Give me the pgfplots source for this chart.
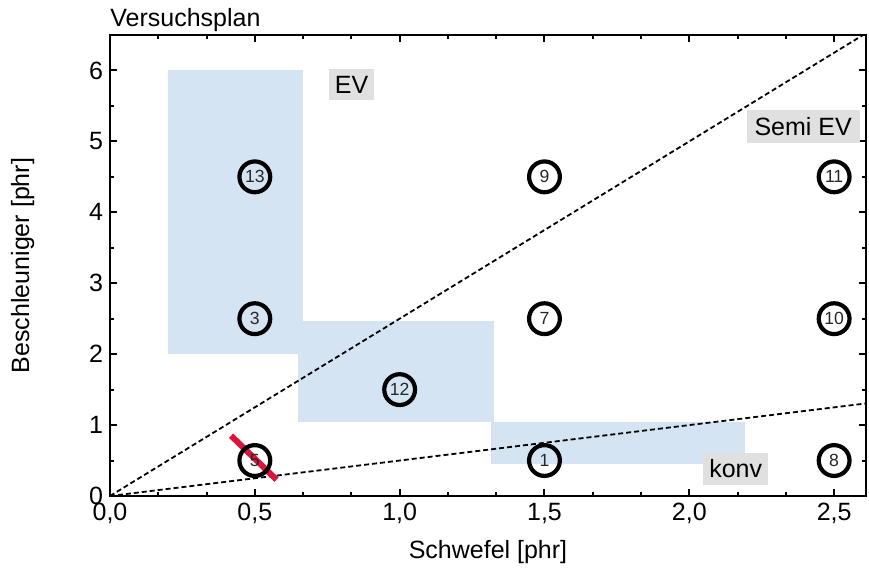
\documentclass[border=0pt]{standalone}
\usepackage{fontspec}
\setmainfont{Liberation Sans}
\usepackage{pgfplots}
\pgfplotsset{compat=1.18}
\definecolor{regblue}{RGB}{212,228,242}
\definecolor{boxgray}{RGB}{224,224,224}
\definecolor{redline}{RGB}{220,20,60}
\begin{document}
\begin{tikzpicture}
\begin{axis}[name=ax, scale only axis, width=378pt, height=230.5pt,
  xmin=0, xmax=2.61, ymin=0, ymax=6.5,
  xtick={0,0.5,1,1.5,2,2.5}, ytick={0,1,2,3,4,5,6},
  minor x tick num=2, minor y tick num=1,
  tick align=inside,
  major tick length=3.5pt, minor tick length=2pt,
  axis line style={line width=1.1pt}, every tick/.style={black, line width=1pt},
  /pgf/number format/assume math mode=true,
  xticklabel style={/pgf/number format/.cd, fixed, fixed zerofill, precision=1, use comma},
  tick label style={font=\fontsize{12.5}{14}\selectfont},
  label style={font=\fontsize{12.5}{14}\selectfont},
  xlabel={Schwefel [phr]}, ylabel={Beschleuniger [phr]},
  xlabel style={at={(axis description cs:0.5,-0.135)}, anchor=base},
  ylabel style={at={(axis description cs:-0.107,0.5)}, anchor=base, rotate=0},
  clip=true,
]
% shaded regions
\addplot[fill=regblue, draw=none] coordinates {(0.2,2.0) (0.666,2.0) (0.666,6.0) (0.2,6.0)};
\addplot[fill=regblue, draw=none] coordinates {(0.648,1.045) (1.324,1.045) (1.324,2.47) (0.648,2.47)};
\addplot[fill=regblue, draw=none] coordinates {(1.317,0.45) (2.193,0.45) (2.193,1.04) (1.317,1.04)};
% dashed lines
\addplot[black, line width=0.9pt, dash pattern=on 2.5pt off 1.5pt] coordinates {(0,0) (2.61,6.525)};
\addplot[black, line width=0.9pt, dash pattern=on 2.5pt off 1.5pt] coordinates {(0,0) (2.61,1.305)};
% design points
\addplot[only marks, mark=o, mark size=7.7pt, mark options={line width=2.1pt, black},
  nodes near coords, point meta=explicit symbolic,
  nodes near coords align=center,
  every node near coord/.append style={anchor=center, font=\fontsize{8.8}{10}\selectfont, text=black!85}]
  coordinates {
  (0.5,0.5)[5] (1.5,0.5)[1] (2.5,0.5)[8]
  (1.0,1.5)[12]
  (0.5,2.5)[3] (1.5,2.5)[7] (2.5,2.5)[10]
  (0.5,4.5)[13] (1.5,4.5)[9] (2.5,4.5)[11]
  };
% red strike
\addplot[redline, line width=3pt] coordinates {(0.418,0.85) (0.575,0.23)};
% labels
\node[fill=boxgray, inner xsep=3pt, inner ysep=3.5pt, font=\fontsize{12.5}{14}\selectfont] at (axis cs:0.834,5.80) {EV};
\node[fill=boxgray, inner xsep=4pt, inner ysep=3.5pt, font=\fontsize{12.5}{14}\selectfont] at (axis cs:2.393,5.21) {Semi EV};
\node[fill=boxgray, inner xsep=3pt, inner ysep=3.5pt, font=\fontsize{12.5}{14}\selectfont] at (axis cs:2.16,0.38) {konv};
\end{axis}
\node[anchor=base west, font=\fontsize{12.5}{14}\selectfont, inner sep=0pt] at ([yshift=4pt]ax.north west) {Versuchsplan};
\pgfresetboundingbox
\path ([shift={(-55pt,-38pt)}]ax.south west) rectangle ([shift={(1.5pt,17.5pt)}]ax.north east);
\end{tikzpicture}
\end{document}
